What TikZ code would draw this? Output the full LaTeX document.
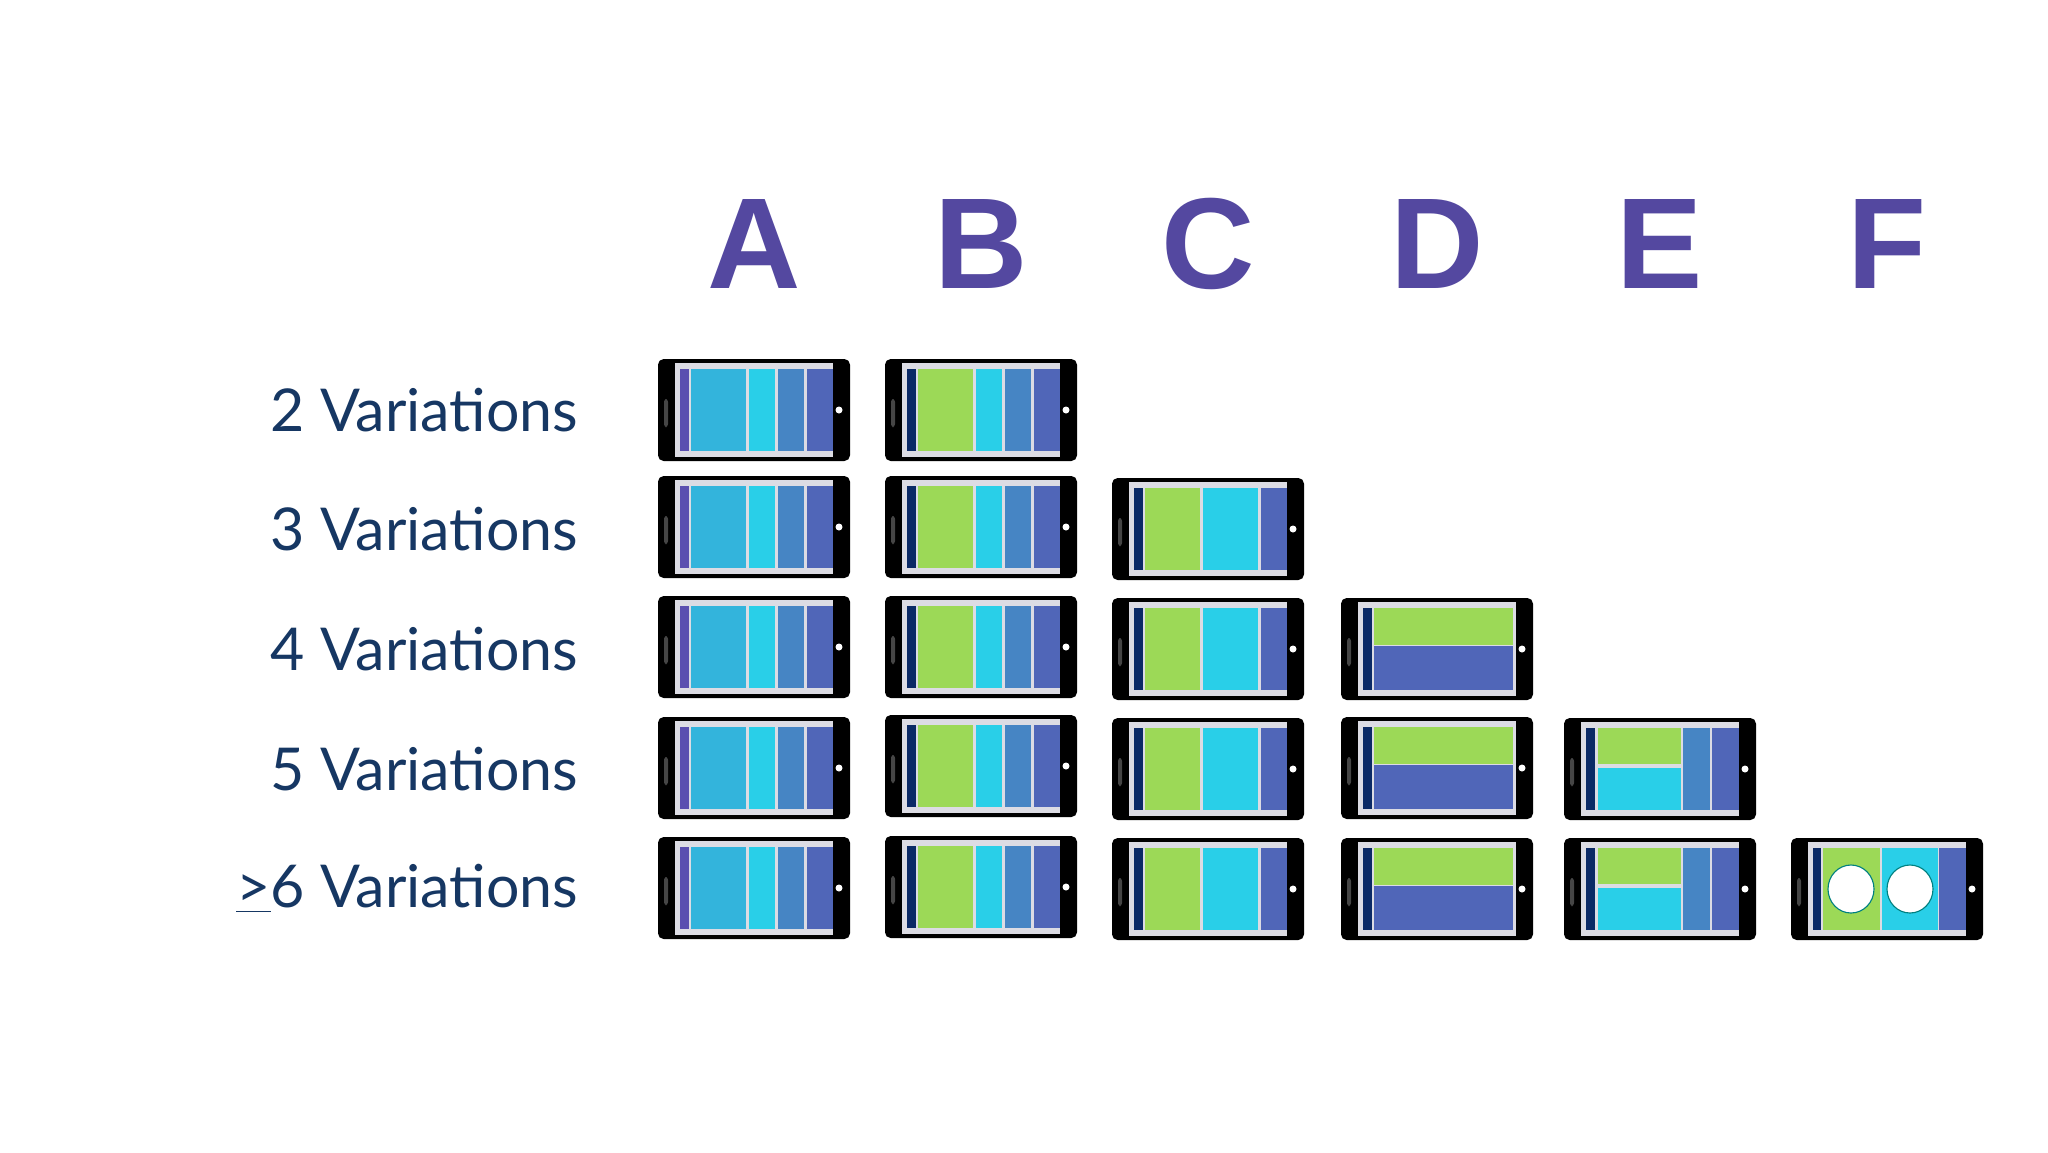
\documentclass[tikz,border=0pt]{standalone}
\usepackage{fontspec}
\setmainfont{Lato}
\definecolor{dA}{HTML}{5A4FB0}
\definecolor{mA}{HTML}{33B4DC}
\definecolor{cy}{HTML}{29CFE8}
\definecolor{st}{HTML}{4685C4}
\definecolor{ind}{HTML}{5066B8}
\definecolor{nv}{HTML}{0B2A66}
\definecolor{gr}{HTML}{9CD957}
\definecolor{scr}{HTML}{DCDCE4}
\definecolor{lett}{HTML}{5448A0}
\definecolor{lab}{HTML}{163763}
\newcommand\ph[3]{\begin{scope}[shift={(#1,#2)}]
 \fill[black,rounded corners=2pt] (0,0) rectangle (192,102);
 \fill[scr] (17,4) rectangle (175,98);
 \fill[gray!55!black,rounded corners=1pt] (6,40) rectangle (10,68);
 \fill[white] (181,51) circle (3.5);
 #3
\end{scope}}
\newcommand\cA{\fill[dA](22,9.5)rectangle(31,92);\fill[mA](33,9.5)rectangle(88,92);\fill[cy](91,9.5)rectangle(117,92);\fill[st](120,9.5)rectangle(146,92);\fill[ind](149,9.5)rectangle(175,92);}
\newcommand\cB{\fill[nv](22,9.5)rectangle(31,92);\fill[gr](33,9.5)rectangle(88,92);\fill[cy](91,9.5)rectangle(117,92);\fill[st](120,9.5)rectangle(146,92);\fill[ind](149,9.5)rectangle(175,92);}
\newcommand\cC{\fill[nv](22,9.5)rectangle(31,92);\fill[gr](33,9.5)rectangle(88,92);\fill[cy](91,9.5)rectangle(146,92);\fill[ind](149,9.5)rectangle(175,92);}
\newcommand\cD{\fill[nv](22,9.5)rectangle(31,92);\fill[gr](33,9.5)rectangle(172,47);\fill[ind](33,48)rectangle(172,92);}
\newcommand\cE{\fill[nv](22,9.5)rectangle(31,92);\fill[gr](34,9.5)rectangle(117,46);\fill[cy](34,50)rectangle(117,92);\fill[st](119,9.5)rectangle(146,92);\fill[ind](148,9.5)rectangle(175,92);}
\newcommand\cF{\fill[nv](22,9.5)rectangle(30,92);\fill[gr](32,9.5)rectangle(89,92);\fill[cy](91,9.5)rectangle(147,92);\fill[ind](148,9.5)rectangle(175,92);
 \filldraw[fill=white,draw=teal,line width=0.4pt](60,51)ellipse(23 and 24);\filldraw[fill=white,draw=teal,line width=0.4pt](119,51)ellipse(23 and 24);}
\begin{document}
\begin{tikzpicture}[x=0.0125cm,y=-0.0125cm,
  letter/.style={font=\fontsize{46}{46}\selectfont\bfseries\sffamily, text=lett},
  lbl/.style={font=\fontsize{21}{24}\selectfont, text=lab, anchor=east}]
\useasboundingbox (0,0) rectangle (2048,1152);
\fill[white] (0,0) rectangle (2048,1152);
\setsansfont{Liberation Sans}
\foreach \x/\l [count=\i] in {754/A,981/B,1208/C,1437/D,1660/E,1887/F}
  \node[letter] (L\l) at (\x,244) {\l};
\foreach \y/\t [count=\i] in {410/2 Variations,529/3 Variations,649/4 Variations,769/5 Variations}
  \node[lbl] (V\i) at (588,\y) {\t};
\node[lbl] (V5) at (588,889) {\underline{\smash{>}}6 Variations};
% rows
\ph{658}{359}{\cA}\ph{885}{359}{\cB}
\ph{658}{476}{\cA}\ph{885}{476}{\cB}\ph{1112}{478}{\cC}
\ph{658}{596}{\cA}\ph{885}{596}{\cB}\ph{1112}{598}{\cC}\ph{1341}{598}{\cD}
\ph{658}{717}{\cA}\ph{885}{715}{\cB}\ph{1112}{718}{\cC}\ph{1341}{717}{\cD}\ph{1564}{718}{\cE}
\ph{658}{837}{\cA}\ph{885}{836}{\cB}\ph{1112}{838}{\cC}\ph{1341}{838}{\cD}\ph{1564}{838}{\cE}\ph{1791}{838}{\cF}
\end{tikzpicture}
\end{document}
